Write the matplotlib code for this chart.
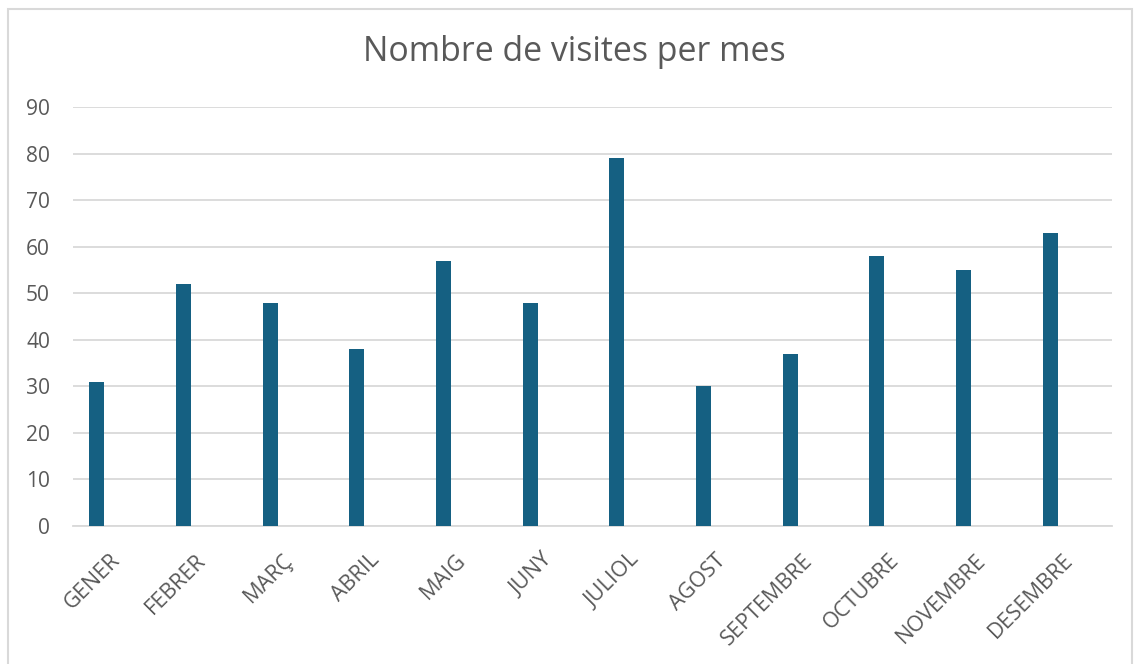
import matplotlib
matplotlib.use("Agg")
import matplotlib.pyplot as plt
import matplotlib.transforms as mtransforms
from matplotlib.patches import Rectangle

months = ["GENER", "FEBRER", "MARÇ", "ABRIL", "MAIG", "JUNY", "JULIOL",
          "AGOST", "SEPTEMBRE", "OCTUBRE", "NOVEMBRE", "DESEMBRE"]
visits = [31, 52, 48, 38, 57, 48, 79, 30, 37, 58, 55, 63]
yticks = [0, 10, 20, 30, 40, 50, 60, 70, 80, 90]
title = "Nombre de visites per mes"

plt.rcParams['font.family'] = ['Open Sans', 'DejaVu Sans']
W, H = 1134, 664
fig = plt.figure(figsize=(W / 100, H / 100), dpi=100)
fig.patch.set_facecolor("white")
TXT = "#595959"

# outer border
fig.patches.append(Rectangle((8 / W, -0.05), (1132 - 8) / W, 1 - 9 / H + 0.05,
                             transform=fig.transFigure, fill=False,
                             edgecolor="#d9d9d9", linewidth=1.5))

ax_l, ax_r, ax_t, ax_b = 73, 1112, 107, 526
ax = fig.add_axes([ax_l / W, 1 - ax_b / H, (ax_r - ax_l) / W, (ax_b - ax_t) / H])
x = list(range(len(months)))
step = 86.67
first_c, last_c = 97, 1050
ax.bar(x, visits, width=15 / step, color="#156082", zorder=3)
ax.set_xlim(-(first_c - ax_l) / step, len(months) - 1 + (ax_r - last_c) / step)
ax.set_ylim(0, 90)
ax.set_yticks(yticks)
ax.set_yticklabels([str(v) for v in yticks], fontsize=15, color=TXT)
ax.grid(axis="y", color="#d9d9d9", linewidth=1.3, zorder=0)
for s in ["top", "right", "left"]:
    ax.spines[s].set_visible(False)
ax.spines["bottom"].set_color("#d9d9d9")
ax.spines["bottom"].set_linewidth(1.3)
ax.tick_params(axis="both", length=0)
ax.tick_params(axis="y", pad=16.5)
ax.set_xticks(x)
ax.set_xticklabels(months, rotation=45, ha="right", rotation_mode="anchor",
                   fontsize=15, color=TXT)
offset = mtransforms.ScaledTranslation(12 / 100, -19 / 100, fig.dpi_scale_trans)
for lbl in ax.get_xticklabels():
    lbl.set_transform(lbl.get_transform() + offset)

t = fig.text(574.5 / W, 1 - 61 / H, title, ha="center", va="baseline",
             fontsize=23, color=TXT)

# fit text sizes to measured widths
fig.canvas.draw()
r = fig.canvas.get_renderer()
w = t.get_window_extent(r).width
t.set_fontsize(23 * 424 / w)
lab = ax.get_yticklabels()[-1]
w = lab.get_window_extent(r).width
fs_y = 15 * 24 / w
for l in ax.get_yticklabels():
    l.set_fontsize(fs_y)
sep_tmp = fig.text(0, 0, "SEPTEMBRE", fontsize=15)
w = sep_tmp.get_window_extent(r).width
sep_tmp.remove()
fs_x = 15 * 120 / w
for l in ax.get_xticklabels():
    l.set_fontsize(fs_x)

fig.savefig("out.png", dpi=100)
